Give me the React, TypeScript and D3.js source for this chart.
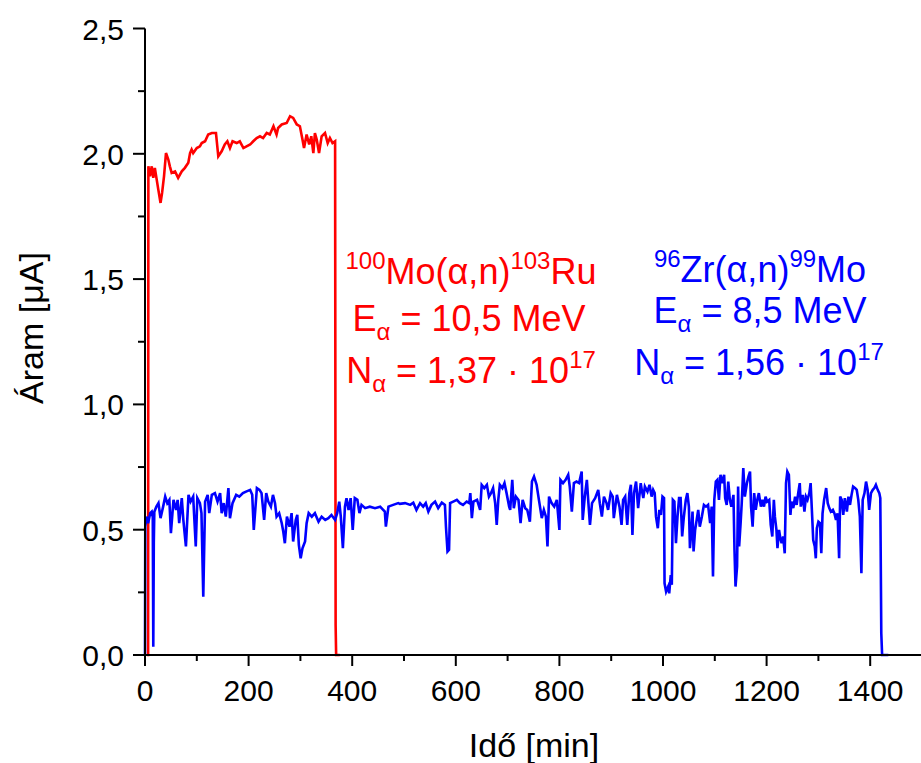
import React from "react";
import * as d3 from "d3";

const xMajorTicks = [0, 200, 400, 600, 800, 1000, 1200, 1400];
const xMinorTicks = [100, 300, 500, 700, 900, 1100, 1300, 1500];
const yMajorTicks = [0, 0.5, 1.0, 1.5, 2.0, 2.5];
const yMinorTicks = [0.25, 0.75, 1.25, 1.75, 2.25];

const xTitle = "Idő [min]";
const yTitle = "Áram [μA]";

// Red series: 100Mo(α,n)103Ru  [time min, current μA]
const redData: [number, number][] = [
  [4, 0], [6, 0], [6.5, 1.95], [9.7, 1.91], [13, 1.95], [16, 1.904], [19, 1.944], [22.6, 1.897],
  [25.7, 1.857], [30, 1.804], [33, 1.844], [36.7, 1.91], [40.5, 2.003], [45, 1.977], [48, 1.95],
  [51.5, 1.924], [58, 1.93], [64, 1.904], [71, 1.93], [77, 1.944], [83.6, 1.964], [87, 2.003],
  [90, 2.017], [93, 2.003], [100, 2.023], [106, 2.03], [109.5, 2.043], [116, 2.05], [122, 2.077],
  [129, 2.083], [137, 2.083], [141.5, 1.99], [148, 2.01], [154, 2.037], [159, 2.05], [164, 2.023],
  [169, 2.05], [177, 2.043], [183, 2.05], [190, 2.023], [196, 2.03], [203, 2.037], [209, 2.05],
  [215.6, 2.063], [222, 2.07], [228, 2.063], [235, 2.083], [241, 2.077], [248, 2.11], [254, 2.077],
  [257, 2.103], [264, 2.117], [273.5, 2.123], [280, 2.15], [286, 2.143], [293, 2.117], [299, 2.11],
  [304, 2.057], [307, 2.023], [312, 2.077], [317, 2.037], [321, 2.07], [325, 2.003], [328, 2.083],
  [331.5, 2.057], [336, 2.003], [341, 2.07], [347.5, 2.083], [352.7, 2.043], [357, 2.063],
  [362, 2.043], [367, 2.05], [368, 0.12], [369, 0], [376, 0],
];

// Blue series: 96Zr(α,n)99Mo  [time min, current μA]
const blueData: [number, number][] = [
  [0, 0], [0.5, 0.512], [3, 0.552], [6, 0.526], [10, 0.566], [13, 0.572], [15, 0.55], [16, 0.033],
  [17, 0.45], [18, 0.572], [22, 0.592], [26, 0.606], [30, 0.546], [35, 0.592], [39, 0.632],
  [43, 0.606], [47, 0.619], [50, 0.486], [55, 0.619], [60, 0.579], [63, 0.619], [66, 0.526],
  [71, 0.626], [74, 0.539], [79, 0.433], [84, 0.639], [88, 0.612], [93, 0.632], [98, 0.433],
  [101, 0.626], [106, 0.606], [109, 0.566], [112.5, 0.233], [116, 0.612], [121, 0.639], [124, 0.566],
  [129, 0.639], [135, 0.646], [140, 0.612], [145, 0.646], [148, 0.566], [152, 0.606], [156, 0.552],
  [161, 0.666], [164, 0.546], [169, 0.606], [176, 0.639], [182, 0.632], [189, 0.646], [195, 0.652],
  [203, 0.659], [207, 0.639], [210, 0.499], [216, 0.666], [221, 0.659], [225, 0.646], [230, 0.539],
  [234, 0.646], [238, 0.612], [243, 0.592], [247, 0.639], [251, 0.606], [254, 0.552], [259, 0.566],
  [264, 0.526], [267, 0.492], [270, 0.446], [274, 0.552], [279, 0.512], [283, 0.566], [286, 0.453],
  [291, 0.539], [294, 0.559], [297, 0.439], [300.5, 0.386], [304, 0.426], [309, 0.453], [312, 0.526],
  [316, 0.566], [322, 0.552], [328, 0.566], [335, 0.532], [341, 0.552], [348, 0.539], [354, 0.546],
  [360, 0.559], [367, 0.539], [371, 0.566], [375, 0.612], [378, 0.552], [382, 0.426], [386, 0.592],
  [389, 0.626], [393, 0.579], [397, 0.626], [401, 0.499], [405, 0.626], [410, 0.619], [414, 0.566],
  [418, 0.599], [425, 0.586], [434, 0.592], [444, 0.586], [454, 0.592], [463, 0.572], [465, 0.512],
  [470, 0.592], [479, 0.599], [489, 0.606],
  [492, 0.603], [502, 0.606], [512, 0.599], [518, 0.608], [524, 0.579], [531, 0.606], [537, 0.592],
  [542, 0.606], [547, 0.572], [553, 0.599], [560, 0.612], [566, 0.586], [573, 0.608], [579, 0.599],
  [581, 0.512], [584, 0.413], [587, 0.42], [589, 0.606], [595, 0.612], [602, 0.619], [608, 0.606],
  [614, 0.599], [621, 0.612], [626, 0.606], [628, 0.646], [631, 0.546], [634, 0.612], [641, 0.619],
  [647, 0.579], [650, 0.679], [655, 0.666], [660, 0.679], [664, 0.632], [668, 0.646], [672, 0.666],
  [676, 0.606], [679, 0.519], [682, 0.619], [685, 0.679], [690, 0.666], [694, 0.686], [698, 0.646],
  [703, 0.592], [705, 0.579], [709, 0.699], [712, 0.586], [716, 0.632], [721, 0.619], [725, 0.526],
  [729, 0.619], [734, 0.586], [738, 0.579], [743, 0.532], [747, 0.692], [751, 0.712], [756, 0.679],
  [761, 0.612], [766, 0.546], [770, 0.579], [774, 0.552], [777, 0.433], [780, 0.632], [785, 0.606],
  [790, 0.592], [795, 0.619], [800, 0.499], [802, 0.699], [807, 0.686], [812, 0.699], [817, 0.719],
  [820, 0.672], [824, 0.572], [828, 0.686], [833, 0.692], [838, 0.686], [843, 0.732], [845, 0.539],
  [849, 0.632], [853, 0.699], [856, 0.606], [859, 0.519], [863, 0.606], [869, 0.626], [875, 0.659],
  [878, 0.606], [882, 0.552], [886, 0.632], [891, 0.606], [894, 0.579], [899, 0.646], [903, 0.632],
  [905, 0.546], [911, 0.639], [916, 0.592], [920, 0.519], [923, 0.619], [927, 0.632], [931, 0.519],
  [935, 0.646], [938, 0.679], [941, 0.479], [944, 0.646], [948, 0.692], [952, 0.586], [957, 0.686],
  [959, 0.659], [962, 0.626], [965, 0.672], [970, 0.652], [974, 0.679], [978, 0.632], [981, 0.659],
  [984, 0.646], [986.5, 0.552], [990, 0.506], [993, 0.579], [996, 0.559], [999, 0.632], [1002, 0.626],
  [1003, 0.286], [1006, 0.253], [1010, 0.273], [1012, 0.246], [1015, 0.319], [1017, 0.28], [1019, 0.619],
  [1022, 0.612], [1025, 0.446], [1028, 0.552], [1031, 0.626], [1034, 0.626], [1037, 0.473], [1040, 0.546],
  [1044, 0.619], [1047, 0.646], [1050, 0.592], [1052, 0.426], [1055, 0.499], [1057, 0.572], [1059, 0.413],
  [1062, 0.499], [1065, 0.539], [1068, 0.579], [1071, 0.512], [1075, 0.552], [1079, 0.599], [1083, 0.592],
  [1087, 0.599], [1091, 0.526], [1094, 0.592], [1096.5, 0.313], [1099, 0.619], [1102, 0.692], [1105, 0.699],
  [1108, 0.619], [1111, 0.719], [1114, 0.686], [1118, 0.719], [1120, 0.626], [1123, 0.599], [1126, 0.692],
  [1129, 0.619], [1132, 0.592], [1136, 0.639], [1138, 0.419], [1140, 0.273], [1143, 0.353], [1145, 0.672],
  [1147, 0.433], [1150, 0.532], [1152, 0.606], [1155, 0.746], [1158, 0.632], [1162, 0.686], [1165, 0.712],
  [1168, 0.732], [1170, 0.592], [1173, 0.512], [1176, 0.646], [1179, 0.579], [1182, 0.619], [1185, 0.646],
  [1189, 0.592], [1192, 0.619], [1195, 0.592], [1198, 0.632], [1201, 0.612], [1205, 0.619], [1208, 0.519],
  [1211, 0.473], [1214, 0.619], [1216, 0.552], [1219, 0.499], [1221, 0.426], [1224, 0.499], [1226.5, 0.466],
  [1229, 0.446], [1232, 0.473], [1235, 0.406], [1237.5, 0.686], [1240, 0.732], [1243, 0.719], [1246, 0.559],
  [1248, 0.612], [1251.5, 0.586], [1255, 0.632], [1258, 0.599], [1261, 0.646], [1264, 0.686], [1266, 0.592],
  [1270, 0.639], [1273, 0.572], [1276, 0.632], [1279, 0.619], [1282.5, 0.646], [1285, 0.686], [1288, 0.552],
  [1290, 0.459], [1293, 0.433], [1295, 0.386], [1297, 0.506], [1300, 0.532], [1303, 0.526], [1305.6, 0.406],
  [1308, 0.565], [1311, 0.619], [1315, 0.666], [1318, 0.606], [1321, 0.586], [1324, 0.572], [1328, 0.579],
  [1331, 0.565], [1334, 0.539], [1337, 0.565], [1340, 0.386], [1342, 0.632], [1345, 0.619], [1348, 0.559],
  [1351, 0.626], [1355, 0.572], [1358, 0.632], [1361, 0.599], [1364, 0.639], [1367, 0.672], [1371, 0.666],
  [1374, 0.659], [1377, 0.619], [1380, 0.552], [1383, 0.326], [1385.5, 0.619], [1389, 0.646], [1392, 0.692],
  [1395, 0.659], [1398, 0.579], [1401.5, 0.646], [1405, 0.659], [1408, 0.666], [1411, 0.679], [1414.5, 0.659],
  [1417.6, 0.646], [1419.5, 0.626], [1421.4, 0.087], [1423, 0], [1435, 0],
];

const RED = "#ff0000";
const BLUE = "#0000ff";
const FONT = "'Liberation Sans', Arial, sans-serif";

export default function App() {
  const W = 921;
  const H = 763;
  const x = d3.scaleLinear().domain([0, 1500]).range([145, 922]);
  const y = d3.scaleLinear().domain([0, 2.5]).range([655, 28.5]);
  const line = d3
    .line<[number, number]>()
    .x((d) => x(d[0]))
    .y((d) => y(d[1]));
  const fmtY = (v: number) => d3.format(".1f")(v).replace(".", ",");
  const x0 = x(0);
  const y0 = y(0);

  const annoSize = 36;
  const supSize = 24;
  const up = -15;
  const sub = 9;

  return (
    <svg
      width={W}
      height={H}
      style={{ position: "absolute", left: 0, top: 0, background: "#fff" }}
      fontFamily={FONT}
    >
      <rect x={0} y={0} width={W} height={H} fill="#fff" />
      {/* data */}
      <path d={line(redData) || ""} fill="none" stroke={RED} strokeWidth={2.6} strokeLinejoin="miter" />
      <path d={line(blueData) || ""} fill="none" stroke={BLUE} strokeWidth={2.6} strokeLinejoin="miter" />

      {/* axes */}
      <line x1={x0} x2={W} y1={y0} y2={y0} stroke="#000" strokeWidth={2} />
      <line x1={x0} x2={x0} y1={y(2.5)} y2={y0} stroke="#000" strokeWidth={2} />
      {xMajorTicks.map((t) => (
        <g key={"xM" + t}>
          <line x1={x(t)} x2={x(t)} y1={y0} y2={y0 + 11} stroke="#000" strokeWidth={2} />
          <text x={x(t)} y={y0 + 46} textAnchor="middle" fontSize={30} fill="#000">
            {t}
          </text>
        </g>
      ))}
      {xMinorTicks.map((t) => (
        <line key={"xm" + t} x1={x(t)} x2={x(t)} y1={y0} y2={y0 + 6} stroke="#000" strokeWidth={2} />
      ))}
      {yMajorTicks.map((t) => (
        <g key={"yM" + t}>
          <line x1={x0 - 12} x2={x0} y1={y(t)} y2={y(t)} stroke="#000" strokeWidth={2} />
          <text x={x0 - 21} y={y(t) + 11} textAnchor="end" fontSize={30} fill="#000">
            {fmtY(t)}
          </text>
        </g>
      ))}
      {yMinorTicks.map((t) => (
        <line key={"ym" + t} x1={x0 - 7} x2={x0} y1={y(t)} y2={y(t)} stroke="#000" strokeWidth={2} />
      ))}

      {/* axis titles */}
      <text x={534} y={757} textAnchor="middle" fontSize={34} fill="#000">
        {xTitle}
      </text>
      <text
        transform={`translate(${43},${328}) rotate(-90)`}
        textAnchor="middle"
        fontSize={34}
        fill="#000"
      >
        {yTitle}
      </text>

      {/* red annotation */}
      <g fill={RED} fontSize={annoSize} textAnchor="middle">
        <text x={471} y={284}>
          <tspan fontSize={supSize} dy={up}>100</tspan>
          <tspan dy={-up}>Mo(α,n)</tspan>
          <tspan fontSize={supSize} dy={up}>103</tspan>
          <tspan dy={-up}>Ru</tspan>
        </text>
        <text x={469} y={331}>
          <tspan>E</tspan>
          <tspan fontSize={supSize} dy={sub}>α</tspan>
          <tspan dy={-sub}> = 10,5 MeV</tspan>
        </text>
        <text x={471} y={383}>
          <tspan>N</tspan>
          <tspan fontSize={supSize} dy={sub}>α</tspan>
          <tspan dy={-sub}> = 1,37 · 10</tspan>
          <tspan fontSize={supSize} dy={up}>17</tspan>
        </text>
      </g>

      {/* blue annotation */}
      <g fill={BLUE} fontSize={annoSize} textAnchor="middle">
        <text x={760} y={282}>
          <tspan fontSize={supSize} dy={up}>96</tspan>
          <tspan dy={-up}>Zr(α,n)</tspan>
          <tspan fontSize={supSize} dy={up}>99</tspan>
          <tspan dy={-up}>Mo</tspan>
        </text>
        <text x={760} y={323}>
          <tspan>E</tspan>
          <tspan fontSize={supSize} dy={sub}>α</tspan>
          <tspan dy={-sub}> = 8,5 MeV</tspan>
        </text>
        <text x={759} y={375}>
          <tspan>N</tspan>
          <tspan fontSize={supSize} dy={sub}>α</tspan>
          <tspan dy={-sub}> = 1,56 · 10</tspan>
          <tspan fontSize={supSize} dy={up}>17</tspan>
        </text>
      </g>
    </svg>
  );
}
